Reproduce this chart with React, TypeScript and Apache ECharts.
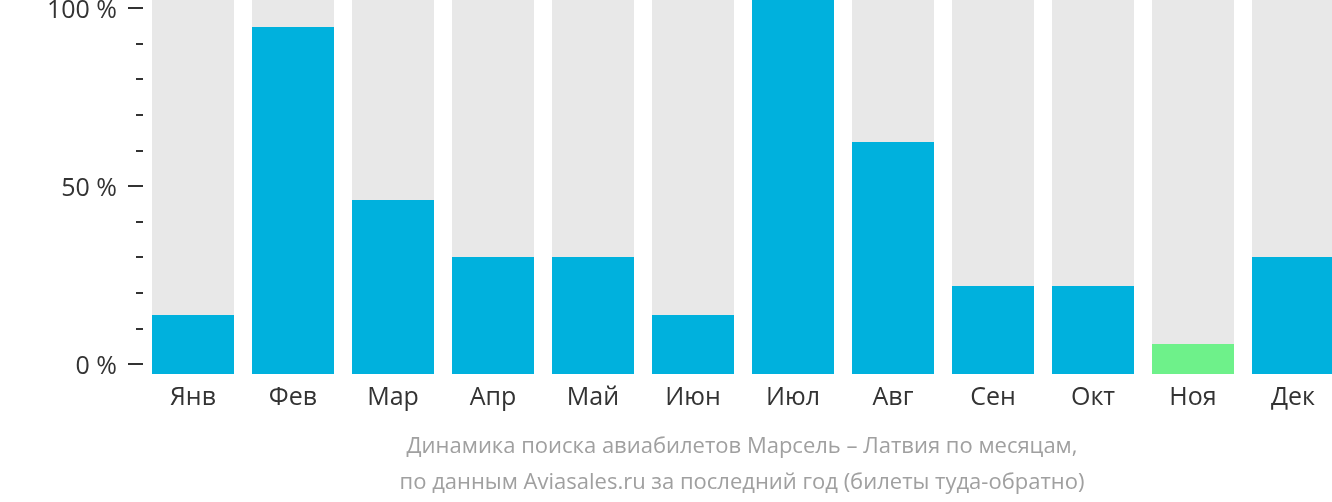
import React, { useEffect, useRef } from "react";
import * as echarts from "echarts";

const months = ["Янв", "Фев", "Мар", "Апр", "Май", "Июн", "Июл", "Авг", "Сен", "Окт", "Ноя", "Дек"];
const values = [15.8, 92.8, 46.5, 31.3, 31.3, 15.8, 100, 62.0, 23.5, 23.5, 8.0, 31.3];
const highlightIndex = 10;
const captionLines = [
  "Динамика поиска авиабилетов Марсель – Латвия по месяцам,",
  "по данным Aviasales.ru за последний год (билеты туда-обратно)",
];

export default function App() {
  const ref = useRef<HTMLDivElement>(null);
  useEffect(() => {
    if (!ref.current) return;
    const chart = echarts.init(ref.current, undefined, { renderer: "svg" });
    const font = "Open Sans";
    chart.setOption({
      animation: false,
      textStyle: { fontFamily: font },
      grid: [
        { left: 143, width: 1200, top: 8, bottom: 138, outerBoundsMode: "none" },
        { left: 143, width: 1200, top: 0, bottom: 128, outerBoundsMode: "none" },
      ],
      xAxis: [
        { type: "category", gridIndex: 0, data: months, show: false },
        {
          type: "category",
          gridIndex: 1,
          data: months,
          axisLine: { show: false },
          axisTick: { show: false },
          axisLabel: { color: "#333", fontSize: 25, fontFamily: font, margin: 8 },
        },
      ],
      yAxis: [
        {
          type: "value",
          gridIndex: 0,
          min: 0,
          max: 100,
          interval: 50,
          axisLine: { show: false },
          splitLine: { show: false },
          axisTick: { show: true, length: 15, lineStyle: { color: "#333", width: 2 } },
          minorTick: { show: true, splitNumber: 5, length: 7, lineStyle: { color: "#333", width: 2 } },
          axisLabel: { color: "#333", fontSize: 25, fontFamily: font, margin: 26, formatter: "{value} %" },
        },
        { type: "value", gridIndex: 1, min: 0, max: 100, show: false },
      ],
      series: [
        {
          type: "bar",
          xAxisIndex: 1,
          yAxisIndex: 1,
          barWidth: 82,
          showBackground: true,
          backgroundStyle: { color: "#e8e8e8" },
          data: values.map((v, i) => ({
            value: v,
            itemStyle: { color: i === highlightIndex ? "#6ef18a" : "#00b1dd" },
          })),
        },
      ],
      graphic: captionLines.map((t, i) => ({
        type: "text",
        x: 742,
        y: 444 + i * 36,
        style: {
          text: t,
          fill: "#a0a0a0",
          fontSize: 22,
          fontFamily: font,
          align: "center",
          verticalAlign: "middle",
        },
      })),
    });
    return () => chart.dispose();
  }, []);
  return <div ref={ref} style={{ position: "fixed", left: 0, top: 0, width: 1332, height: 502 }} />;
}
